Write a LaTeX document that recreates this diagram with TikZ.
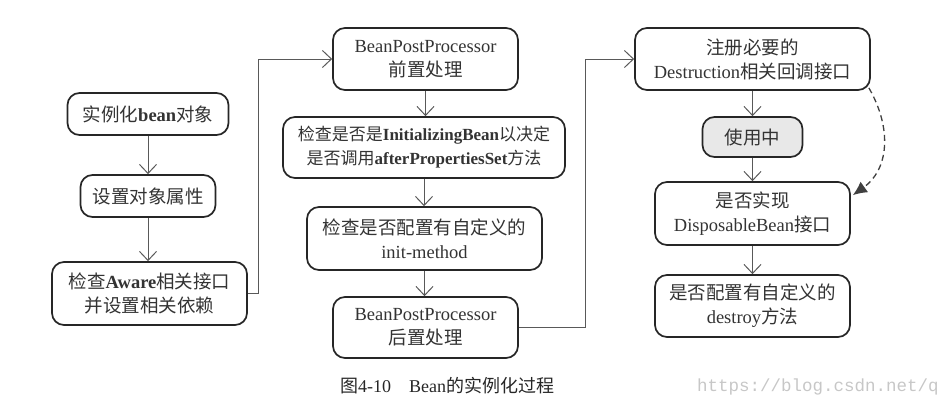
\documentclass[tikz,border=0pt]{standalone}
\usepackage{fontspec}
\setmainfont{Liberation Serif}
\newfontfamily\cjk{Noto Sans CJK SC}
\newfontfamily\wmfont{Liberation Mono}
\usetikzlibrary{arrows.meta}
\newcommand{\zh}[1]{{\cjk #1}}
\begin{document}
\begin{tikzpicture}[x=1pt,y=-1pt,
  box/.style={draw=black!85, line width=1.7pt, rounded corners=12pt, align=center,
    inner sep=0pt, text=black!80, font=\fontsize{18.5}{24}\selectfont},
  flow/.style={draw=black!65, line width=1pt, -{Straight Barb[length=9pt,width=17pt,line width=1pt]}},
  dashflow/.style={draw=black!75, line width=1.3pt, dash pattern=on 6pt off 4pt, -{Latex[length=14pt,width=13pt]}}
]
\useasboundingbox (0,0) rectangle (944,410);
% left column
\node[box, minimum width=161pt, minimum height=42pt] (b1) at (148,114) {\zh{实例化}\textbf{bean}\zh{对象}};
\node[box, minimum width=135pt, minimum height=42pt] (b2) at (148,196) {\zh{设置对象属性}};
\node[box, minimum width=195pt, minimum height=63pt] (b3) at (149.5,293.5) {\zh{检查}\textbf{Aware}\zh{相关接口}\\\zh{并设置相关依赖}};
% middle column
\node[box, minimum width=185pt, minimum height=62pt] (m1) at (425.5,59) {BeanPostProcessor\\\zh{前置处理}};
\node[box, minimum width=282pt, minimum height=61pt, font=\fontsize{17}{24}\selectfont] (m2) at (424,147.5) {\zh{检查是否是}\textbf{InitializingBean}\zh{以决定}\\\zh{是否调用}\textbf{afterPropertiesSet}\zh{方法}};
\node[box, minimum width=235pt, minimum height=63pt] (m3) at (424.5,238.5) {\zh{检查是否配置有自定义的}\\init-method};
\node[box, minimum width=185pt, minimum height=61pt] (m4) at (425.5,327.5) {BeanPostProcessor\\\zh{后置处理}};
% right column
\node[box, minimum width=235pt, minimum height=62pt] (r1) at (752.5,59) {\zh{注册必要的}\\Destruction\zh{相关回调接口}};
\node[box, minimum width=100pt, minimum height=40pt, fill=black!9] (r2) at (752.5,137) {\zh{使用中}};
\node[box, minimum width=195pt, minimum height=63pt] (r3) at (752.5,213.5) {\zh{是否实现}\\DisposableBean\zh{接口}};
\node[box, minimum width=195pt, minimum height=62pt] (r4) at (752.5,306) {\zh{是否配置有自定义的}\\destroy\zh{方法}};
% connectors
\draw[flow] (b1) -- (b2);
\draw[flow] (b2.south) -- (b2.south |- b3.north);
\draw[flow] (b3.east) -- ++(11,0) |- (m1.west);
\draw[flow] (m1.south) -- (m1.south |- m2.north);
\draw[flow] (m2.south) -- (m2.south |- m3.north);
\draw[flow] (m3.south) -- (m3.south |- m4.north);
\draw[flow] (m4.east) -| (585,59) -- (r1.west);
\draw[flow] (r1) -- (r2);
\draw[flow] (r2) -- (r3);
\draw[flow] (r3) -- (r4);
\coordinate (dstart) at ([xshift=-2pt,yshift=3pt]r1.south east);
\coordinate (dend) at ([xshift=2pt,yshift=-14pt]r3.north east);
\draw[dashflow] (dstart) .. controls (893,130) and (888,170) .. (dend);
% caption
\node[anchor=west, font=\fontsize{18}{22}\selectfont, text=black!85, inner sep=0pt] (cap) at (340,386) {\zh{图}4-10\hspace{1em}Bean\zh{的实例化过程}};
\begin{scope}
\clip (0,0) rectangle (944,410);
\node[anchor=west, font=\wmfont\fontsize{17.5}{20}\selectfont, text=black!22, inner sep=0pt] (wm) at (697,387) {https://blog.csdn.net/q};
\end{scope}
\end{tikzpicture}
\end{document}
